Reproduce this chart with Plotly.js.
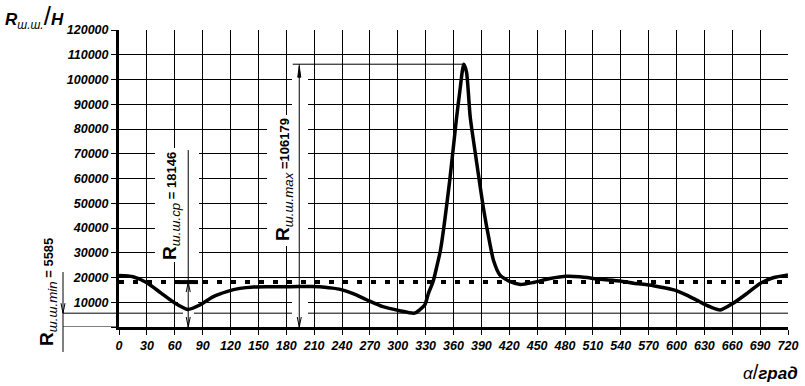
<!DOCTYPE html>
<html>
<head>
<meta charset="utf-8">
<script src="https://cdn.plot.ly/plotly-3.0.1.min.js"></script>
<style>
  html, body { margin: 0; padding: 0; background: #fff; }
  #chart { width: 805px; height: 386px; }
</style>
</head>
<body>
<div id="chart"></div>
<script>
// ---- data ----
const angleDeg = [0, 15, 30, 45, 60, 74, 87, 101, 116, 130, 145, 160, 185, 216, 230, 238, 252, 267, 284, 302, 318,
  329, 333, 338, 342, 346, 356, 363, 367, 371, 374, 378, 385, 392, 399, 403, 410, 421, 432, 446, 464, 482, 496,
  518, 539, 554, 575, 597, 611, 625, 636, 647, 661, 676, 690, 704, 720];
const forceN = [20800, 20300, 17900, 13800, 9700, 7100, 8900, 12200, 14300, 15600, 16200, 16300, 16300, 16300, 15700, 15200, 13500, 10900, 8200, 6600, 5585,
  8900, 13600, 18300, 24400, 31100, 59400, 83600, 95800, 106179, 103000, 84800, 66300, 48500, 34000, 27000, 21000, 18300, 17200, 18000, 19600, 20500, 20300,
  19300, 18600, 17700, 16700, 15000, 12900, 10200, 8200, 6900, 9600, 13600, 17600, 19900, 21000];
const xTicks = [0, 30, 60, 90, 120, 150, 180, 210, 240, 270, 300, 330, 360, 390, 420, 450, 480, 510, 540, 570, 600, 630, 660, 690, 720];
const yTicks = [0, 10000, 20000, 30000, 40000, 50000, 60000, 70000, 80000, 90000, 100000, 110000, 120000];
const yTickText = ['', '10000', '20000', '30000', '40000', '50000', '60000', '70000', '80000', '90000', '100000', '110000', '120000'];
const rMin = 5585;
const rAvg = 18146;
const rMax = 106179;
const rMaxAngle = 370.5;

// ---- layout helpers (annotation placement) ----
const FONT = 'Liberation Sans, Arial, sans-serif';
const avgDimX = 74.5;     // angle where R_avg dimension line is drawn
const maxDimX = 194;      // angle where R_max dimension line is drawn
const minDimXp = -0.0837; // paper x of R_min dimension line
const black = '#000';

function line(x0, x1, y0, y1, opts) {
  return Object.assign({type: 'line', xref: 'x', yref: 'y', x0: x0, x1: x1, y0: y0, y1: y1,
    line: {color: black, width: 1}, layer: 'above'}, opts || {});
}
function box(x0, x1, y0, y1) {
  return {type: 'rect', xref: 'x', yref: 'y', x0: x0, x1: x1, y0: y0, y1: y1,
    fillcolor: '#fff', line: {width: 0}, layer: 'between'};
}
function arrow(xref, xa, ya, dir, filled) {
  const p = dir === 'up'
    ? (filled ? 'M-1.5,-13L0,-2L1.5,-13Z' : 'M-2,-10L0,0L2,-10')
    : 'M-2,10L0,0L2,10';
  return {type: 'path', xref: xref, yref: 'y', xsizemode: 'pixel', ysizemode: 'pixel',
    xanchor: xa, yanchor: ya, path: p, line: {color: black, width: 1},
    fillcolor: filled ? black : 'rgba(0,0,0,0)', layer: 'above'};
}

const shapes = [
  // extra horizontal line at R_min and the 0-line extension to the left
  {type: 'line', xref: 'paper', yref: 'y', x0: minDimXp, x1: 1, y0: rMin, y1: rMin, line: {color: black, width: 1}, layer: 'between'},
  {type: 'line', xref: 'paper', yref: 'y', x0: minDimXp, x1: 0, y0: 0, y1: 0, line: {color: black, width: 1}, layer: 'between'},
  // white label / arrow boxes that break the grid
  box(38.7, 86.1, 26300, 72300),
  box(63.5, 85, 8480, 17370),
  box(68.9, 80.7, 1620, 7680),
  box(186.2, 203.4, 31100, 105050),
  box(159.3, 203.4, 32700, 85650),
  box(186.2, 203.4, 1620, 12525),
  // average line (thick dotted)
  line(0, 720, rAvg, rAvg, {line: {color: black, width: 4, dash: '5px,9px'}, layer: 'between'}),
  line(63.5, 85, rAvg, rAvg, {line: {color: black, width: 4}, layer: 'between'}),
  // dimension lines
  line(avgDimX, avgDimX, 0, 71500),
  line(maxDimX, maxDimX, 0, rMax),
  line(187, rMaxAngle, rMax, rMax),
  {type: 'line', xref: 'paper', yref: 'paper', x0: minDimXp, x1: minDimXp, y0: -0.084, y1: 0.185, line: {color: black, width: 1}, layer: 'above'},
  // arrowheads
  arrow('x', avgDimX, rAvg, 'up'),
  arrow('x', avgDimX, 0, 'down'),
  arrow('x', maxDimX, rMax, 'up', true),
  arrow('x', maxDimX, 0, 'down'),
  arrow('paper', minDimXp, rMin, 'down'),
  arrow('paper', minDimXp, 0, 'up')
];

const annotations = [
  {xref: 'paper', yref: 'paper', x: -0.1734, y: 1.0438, xanchor: 'left', yanchor: 'middle', showarrow: false,
    text: '<b><i>R</i></b><sub><i>ш.ш.</i></sub><span style="font-size:26px">/</span><b><i>Н</i></b>',
    font: {family: FONT, size: 17, color: black}},
  {xref: 'paper', yref: 'paper', x: 1.018, y: -0.1515, xanchor: 'right', yanchor: 'middle', showarrow: false,
    text: '<i>α</i><span style="font-size:20px">/</span><b><i>град</i></b>',
    font: {family: FONT, size: 17, color: black}},
  {xref: 'x', yref: 'y', x: 56, y: 48900, textangle: -90, showarrow: false, xanchor: 'center', yanchor: 'middle',
    text: '<b>R</b><sub><i>ш.ш.ср</i></sub><span style="font-size:13px"><b> = ' + rAvg + '</b></span>',
    font: {family: FONT, size: 19, color: black}},
  {xref: 'x', yref: 'y', x: 177.6, y: 59400, textangle: -90, showarrow: false, xanchor: 'center', yanchor: 'middle',
    text: '<b>R</b><sub><i>ш.ш.max</i></sub><span style="font-size:13px"><b> =' + rMax + '</b></span>',
    font: {family: FONT, size: 19, color: black}},
  {xref: 'paper', yref: 'paper', x: -0.106, y: 0.118, textangle: -90, showarrow: false, xanchor: 'center', yanchor: 'middle',
    text: '<b>R</b><sub><i>ш.ш.min</i></sub><span style="font-size:13px"><b> = ' + rMin + '</b></span>',
    font: {family: FONT, size: 19, color: black}}
];

const tickFont = {family: FONT, size: 12.5, weight: 'bold', style: 'italic', color: black};

const trace = {
  x: angleDeg, y: forceN, type: 'scatter', mode: 'lines',
  line: {color: black, width: 3.5, shape: 'spline', smoothing: 0.6},
  hoverinfo: 'skip'
};

const layout = {
  width: 805, height: 386,
  margin: {l: 119, r: 17, t: 30, b: 59, pad: 0},
  paper_bgcolor: '#fff', plot_bgcolor: '#fff',
  showlegend: false,
  xaxis: {
    range: [0, 720], tickvals: xTicks, ticktext: xTicks.map(String),
    showgrid: true, gridcolor: black, gridwidth: 1, zeroline: false,
    showline: true, linecolor: black, linewidth: 3,
    ticks: 'outside', ticklen: 5, tickwidth: 1, tickcolor: black,
    tickfont: tickFont, fixedrange: true
  },
  yaxis: {
    range: [0, 120000], tickvals: yTicks, ticktext: yTickText,
    showgrid: true, gridcolor: black, gridwidth: 1, zeroline: false,
    showline: true, linecolor: black, linewidth: 3,
    ticks: 'outside', ticklen: 5, tickwidth: 1, tickcolor: black,
    tickfont: tickFont, fixedrange: true
  },
  shapes: shapes,
  annotations: annotations
};

Plotly.newPlot('chart', [trace], layout, {staticPlot: true, displayModeBar: false});
</script>
</body>
</html>
